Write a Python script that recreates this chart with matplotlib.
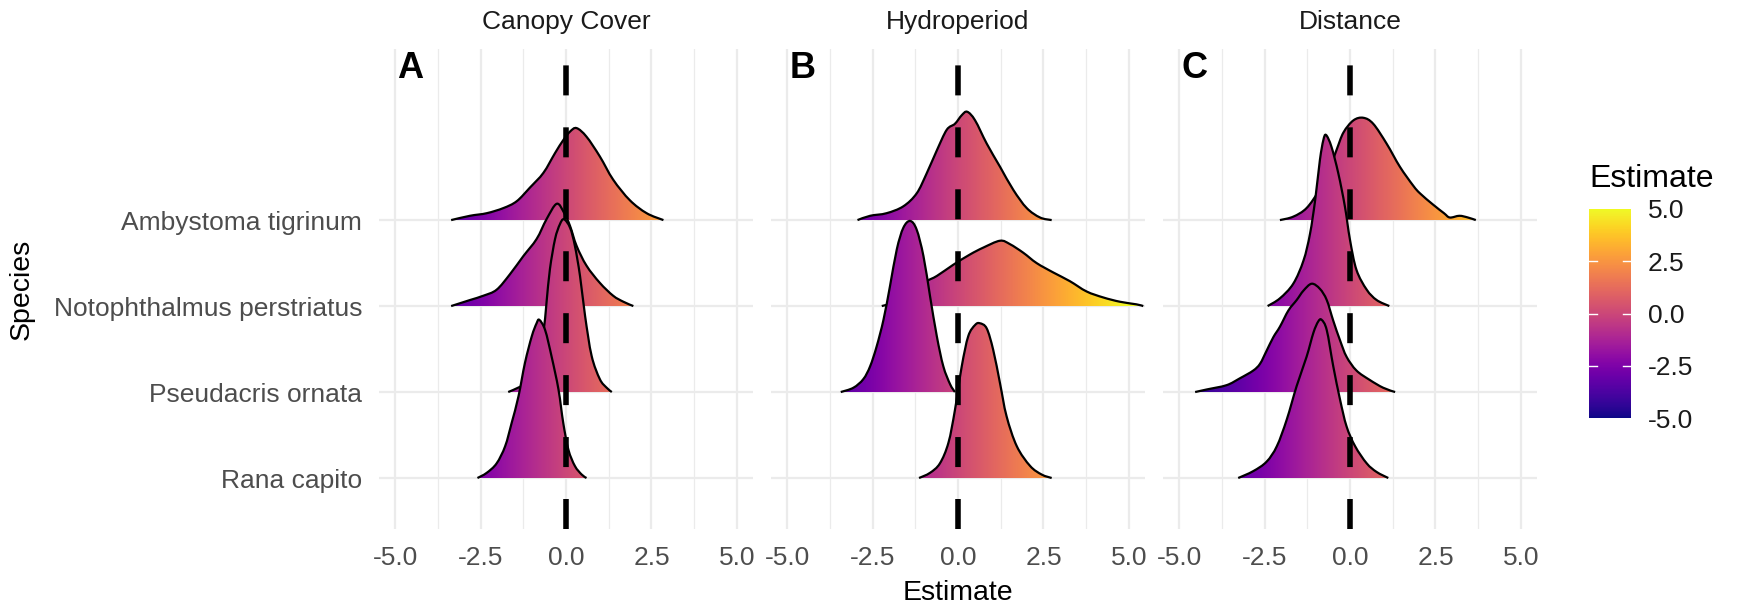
import numpy as np
import matplotlib
matplotlib.use("Agg")
import matplotlib.pyplot as plt
from matplotlib.path import Path
from matplotlib.patches import PathPatch
from matplotlib.colors import Normalize
from matplotlib.cm import ScalarMappable

plt.rcParams['font.family'] = ['Liberation Sans', 'DejaVu Sans']

# row order bottom -> top
species = ['Rana capito', 'Pseudacris ornata', 'Notophthalmus perstriatus', 'Ambystoma tigrinum']
facets = ['Canopy Cover', 'Hydroperiod', 'Distance']
panel_tags = ['A', 'B', 'C']
x_ticks = [-5.0, -2.5, 0.0, 2.5, 5.0]
x_ticklabels = ['-5.0', '-2.5', '0.0', '2.5', '5.0']

# ridge outlines: (estimate, ridge height in row units)
canopy_ambystoma = [(-3.36, 0), (-2.81, 0.05), (-2.32, 0.08), (-1.83, 0.14), (-1.44, 0.22), (-1.05, 0.38),
                    (-0.66, 0.55), (-0.32, 0.78), (-0.08, 0.93), (0.12, 1.03), (0.31, 1.07), (0.60, 0.97),
                    (0.99, 0.74), (1.38, 0.47), (1.87, 0.23), (2.36, 0.08), (2.85, 0)]
canopy_notophthalmus = [(-3.36, 0), (-2.81, 0.07), (-2.42, 0.12), (-2.03, 0.19), (-1.64, 0.37), (-1.25, 0.58),
                        (-0.86, 0.78), (-0.57, 1.01), (-0.27, 1.19), (-0.05, 1.08), (0.12, 0.93), (0.31, 0.70),
                        (0.60, 0.47), (0.99, 0.27), (1.38, 0.12), (1.68, 0.05), (1.97, 0)]
canopy_pseudacris = [(-1.69, 0), (-1.35, 0.06), (-1.05, 0.13), (-0.81, 0.38), (-0.66, 0.69), (-0.57, 1.04),
                     (-0.47, 1.43), (-0.32, 1.78), (-0.18, 1.95), (-0.06, 2.01), (0.12, 1.91), (0.26, 1.70),
                     (0.41, 1.35), (0.56, 0.88), (0.75, 0.42), (0.99, 0.15), (1.19, 0.05), (1.34, 0)]
canopy_rana = [(-2.59, 0), (-2.32, 0.06), (-2.03, 0.17), (-1.78, 0.37), (-1.59, 0.64), (-1.39, 0.95),
               (-1.20, 1.34), (-1.00, 1.65), (-0.86, 1.80), (-0.78, 1.84), (-0.61, 1.72), (-0.42, 1.41),
               (-0.22, 1.03), (-0.08, 0.64), (0.07, 0.33), (0.26, 0.14), (0.46, 0.04), (0.60, 0)]

hydro_ambystoma = [(-2.94, 0), (-2.57, 0.05), (-2.09, 0.08), (-1.60, 0.16), (-1.21, 0.31), (-0.92, 0.54),
                   (-0.62, 0.81), (-0.33, 1.05), (-0.09, 1.12), (0.11, 1.22), (0.27, 1.26), (0.50, 1.16),
                   (0.84, 0.89), (1.23, 0.62), (1.62, 0.35), (2.01, 0.14), (2.40, 0.03), (2.74, 0)]
hydro_notophthalmus = [(-2.23, 0), (-1.9, 0.04), (-1.5, 0.12), (-1.2, 0.21), (-0.92, 0.29), (-0.62, 0.35),
                       (-0.14, 0.48), (0.35, 0.60), (0.74, 0.68), (1.23, 0.76), (1.52, 0.72), (1.91, 0.62),
                       (2.30, 0.50), (2.79, 0.39), (3.27, 0.29), (3.76, 0.17), (4.25, 0.10), (4.74, 0.05),
                       (5.22, 0.02), (5.42, 0)]
hydro_pseudacris = [(-3.43, 0), (-3.06, 0.05), (-2.77, 0.15), (-2.57, 0.30), (-2.38, 0.53), (-2.18, 0.84),
                    (-1.99, 1.23), (-1.79, 1.66), (-1.60, 1.91), (-1.40, 1.99), (-1.21, 1.89), (-1.01, 1.58),
                    (-0.82, 1.12), (-0.62, 0.65), (-0.43, 0.30), (-0.23, 0.09), (-0.09, 0)]
hydro_rana = [(-1.14, 0), (-0.82, 0.06), (-0.53, 0.17), (-0.28, 0.41), (-0.09, 0.79), (0.11, 1.30),
              (0.30, 1.65), (0.50, 1.78), (0.64, 1.80), (0.84, 1.74), (1.03, 1.49), (1.23, 1.10),
              (1.42, 0.72), (1.72, 0.37), (2.11, 0.14), (2.45, 0.04), (2.74, 0)]

dist_ambystoma = [(-2.05, 0), (-1.66, 0.04), (-1.27, 0.14), (-0.9, 0.35), (-0.6, 0.6), (-0.39, 0.82),
                  (-0.19, 1.02), (0.10, 1.16), (0.39, 1.19), (0.68, 1.12), (1.07, 0.89), (1.46, 0.62),
                  (1.85, 0.40), (2.05, 0.31), (2.43, 0.18), (2.75, 0.08), (2.92, 0.03), (3.2, 0.05),
                  (3.45, 0.03), (3.68, 0)]
dist_notophthalmus = [(-2.41, 0), (-2.05, 0.09), (-1.66, 0.26), (-1.36, 0.53), (-1.17, 0.84), (-1.02, 1.23),
                      (-0.88, 1.70), (-0.78, 1.93), (-0.70, 1.99), (-0.54, 1.85), (-0.34, 1.54), (-0.15, 1.16),
                      (0.0, 0.77), (0.19, 0.42), (0.49, 0.19), (0.78, 0.07), (1.15, 0)]
dist_pseudacris = [(-4.53, 0), (-4.19, 0.03), (-3.61, 0.08), (-3.22, 0.16), (-2.83, 0.25), (-2.63, 0.33),
                   (-2.44, 0.48), (-2.24, 0.64), (-2.05, 0.76), (-1.80, 0.95), (-1.56, 1.07), (-1.36, 1.18),
                   (-1.12, 1.26), (-0.88, 1.20), (-0.68, 1.07), (-0.49, 0.83), (-0.29, 0.60), (-0.10, 0.41),
                   (0.19, 0.25), (0.58, 0.14), (0.97, 0.05), (1.32, 0)]
dist_rana = [(-3.27, 0), (-2.83, 0.08), (-2.44, 0.19), (-2.14, 0.37), (-1.85, 0.68), (-1.56, 1.07),
             (-1.27, 1.41), (-1.07, 1.69), (-0.93, 1.82), (-0.83, 1.84), (-0.68, 1.72), (-0.49, 1.30),
             (-0.29, 0.91), (-0.10, 0.60), (0.15, 0.37), (0.49, 0.17), (0.78, 0.07), (1.12, 0)]

# per facet, bottom -> top (same order as species)
ridges = [
    [canopy_rana, canopy_pseudacris, canopy_notophthalmus, canopy_ambystoma],
    [hydro_rana, hydro_pseudacris, hydro_notophthalmus, hydro_ambystoma],
    [dist_rana, dist_pseudacris, dist_notophthalmus, dist_ambystoma],
]


def smooth_curve(pts, base):
    # catmull-rom through the read points, as bezier segments
    p = np.array(pts, float)
    p[:, 1] += base
    ext = np.vstack([p[0], p, p[-1]])
    verts = [p[0]]
    codes = [Path.MOVETO]
    for i in range(1, len(ext) - 2):
        c1 = ext[i] + (ext[i + 1] - ext[i - 1]) / 6
        c2 = ext[i + 1] - (ext[i + 2] - ext[i]) / 6
        verts += [c1, c2, ext[i + 1]]
        codes += [Path.CURVE4] * 3
    return verts, codes


W, H = 1741, 610
fig = plt.figure(figsize=(W / 100, H / 100), dpi=100)
norm = Normalize(-5, 5)
panel_left = [379, 771, 1163]
tick_color = '#4D4D4D'
grid_color = '#EBEBEB'

for k in range(3):
    ax = fig.add_axes([panel_left[k] / W, 81 / H, 374 / W, 480 / H])
    ax.set_xlim(-5.47, 5.47)
    ax.set_ylim(0.407, 5.99)
    for s in ax.spines.values():
        s.set_visible(False)
    ax.set_xticks(x_ticks)
    ax.set_xticklabels(x_ticklabels)
    ax.set_xticks([-3.75, -1.25, 1.25, 3.75], minor=True)
    ax.set_yticks([1, 2, 3, 4])
    ax.set_yticklabels(species if k == 0 else [])
    ax.grid(which='major', color=grid_color, lw=1.6, zorder=0)
    ax.grid(which='minor', axis='x', color=grid_color, lw=0.9, zorder=0)
    ax.set_axisbelow(True)
    ax.tick_params(which='both', length=0, labelsize=19, labelcolor=tick_color, pad=12)

    # draw top row first so lower ridges overlap the ones above
    for j in range(3, -1, -1):
        pts = ridges[k][j]
        base = j + 1
        verts, codes = smooth_curve(pts, base)
        fill_path = Path(verts + [verts[0], verts[0]], codes + [Path.LINETO, Path.CLOSEPOLY])
        clip = PathPatch(fill_path, facecolor='none', edgecolor='none')
        ax.add_patch(clip)
        x0, x1 = pts[0][0], pts[-1][0]
        hmax = max(h for _, h in pts)
        grad = np.linspace(x0, x1, 300)[None, :]
        z = 2 + (3 - j)
        im = ax.imshow(grad, cmap='plasma', norm=norm, aspect='auto', origin='lower',
                       extent=(x0, x1, base, base + hmax + 0.15), zorder=z, interpolation='bilinear')
        im.set_clip_path(clip)
        ax.add_patch(PathPatch(Path(verts, codes), fill=False, edgecolor='black', lw=1.6,
                               joinstyle='round', zorder=z + 0.5))

    ax.set_xlim(-5.47, 5.47)
    ax.set_ylim(0.407, 5.99)
    ax.axvline(0, color='black', lw=4.0, dashes=(5.4, 5.75), zorder=20)
    ax.text(-4.55, 5.65, panel_tags[k], fontsize=26, fontweight='bold', ha='center', va='baseline', zorder=21)
    fig.text((panel_left[k] + 187) / W, 1 - 29 / H, facets[k], fontsize=19, color='#1A1A1A',
             ha='center', va='baseline')

fig.text(958 / W, 1 - 600 / H, 'Estimate', fontsize=20.5, ha='center', va='baseline')
fig.text(22 / W, 1 - 289 / H, 'Species', fontsize=20.5, rotation=90, ha='center', va='center')

# colour bar legend
cax = fig.add_axes([1589 / W, (H - 418) / H, 42 / W, 209 / H])
sm = ScalarMappable(norm=norm, cmap='plasma')
cb = fig.colorbar(sm, cax=cax, ticks=x_ticks)
cb.outline.set_visible(False)
cb.ax.set_yticklabels(x_ticklabels)
cb.ax.tick_params(length=0, labelsize=19, pad=12, labelcolor='#1A1A1A')
for t in x_ticks[1:-1]:
    cax.axhline(t, xmin=0, xmax=0.2, color='white', lw=1)
    cax.axhline(t, xmin=0.8, xmax=1, color='white', lw=1)
fig.text(1589 / W, 1 - 187 / H, 'Estimate', fontsize=23, ha='left', va='baseline')

fig.savefig('out.png', dpi=100)
